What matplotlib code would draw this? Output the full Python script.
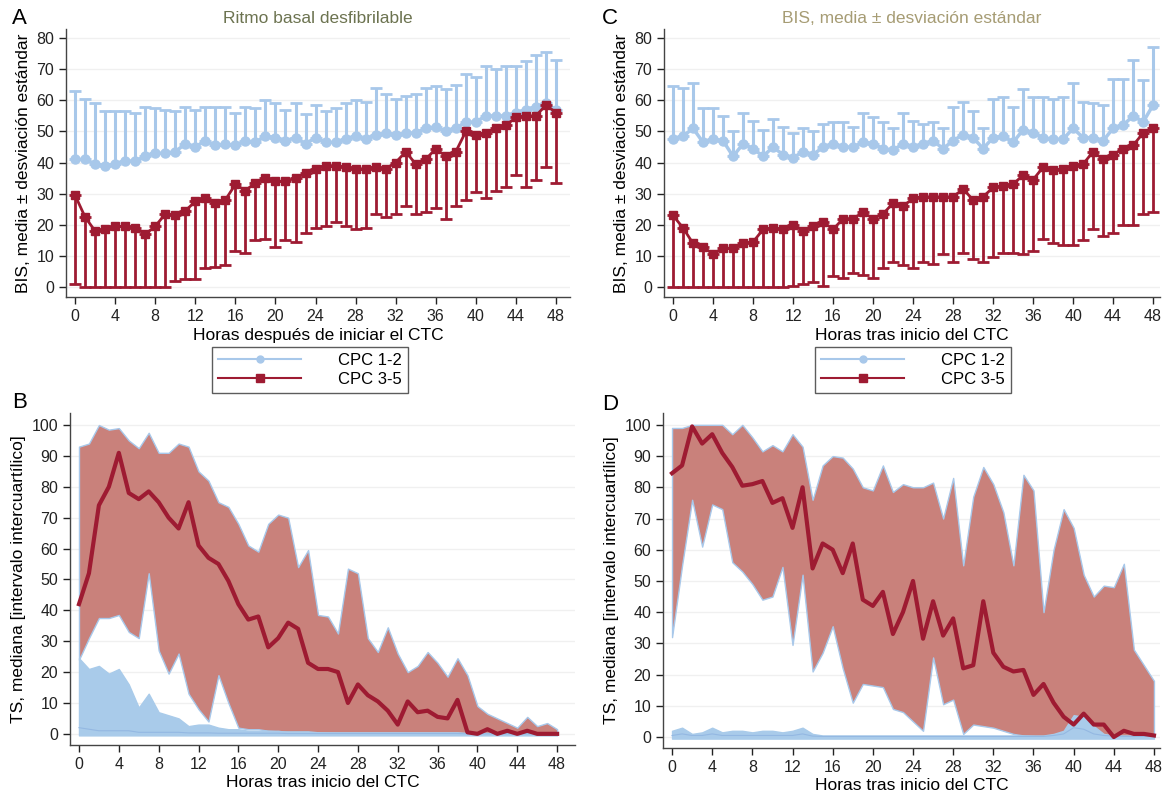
import numpy as np
import matplotlib.pyplot as plt
from matplotlib.lines import Line2D

plt.rcParams['font.family'] = ['Liberation Sans', 'DejaVu Sans']

hours = np.arange(49)

# Panel A: BIS, ritmo basal desfibrilable
a_blue_mean = [41, 41, 39.5, 39, 39.5, 40.5, 40.5, 42, 43, 43, 43.5, 46, 45, 47, 45.5, 46, 45.5,
               47, 46.5, 48.5, 48, 47, 48, 46, 48, 46.5, 46.5, 47.5, 48.5, 47.5, 49, 49.5, 49,
               49.5, 49.5, 51, 51.5, 50, 51, 53, 53, 55, 55, 55, 56, 57, 58, 59, 57]
a_blue_upper = [63, 60.5, 59, 56.5, 56.5, 56.5, 56, 58, 57.5, 57, 56.5, 58, 57, 58, 58, 58, 56,
                58, 57.5, 60, 59, 57, 59, 55.5, 58.5, 56.5, 57.5, 59, 60, 59.5, 64, 62, 60.5,
                61.5, 62, 64, 64.5, 63.5, 65, 68.5, 67.5, 71, 70, 71, 71, 72.5, 74.5, 75.5, 73]
a_red_mean = [29.5, 22.5, 18, 18.5, 19.5, 19.5, 19, 17, 19.5, 23.5, 23, 24.5, 27.5, 28.5, 27, 28,
              33, 31, 33.5, 35, 34, 34, 35, 36.5, 38, 39, 39, 38.5, 38, 38, 38.5, 38, 40, 43.5,
              39.5, 41, 44.5, 42, 43.5, 50, 49, 49.5, 51, 52, 54.5, 55, 55, 58.5, 56]
a_red_lower = [1, 0, 0, 0, 0, 0, 0, 0, 0, 0, 2, 2.5, 2.5, 6, 6.5, 7, 11.5, 11, 15, 15.5, 13, 15,
               14.5, 17.5, 19, 19.5, 21, 19.5, 18.5, 19, 23.5, 22.5, 23.5, 26, 23.5, 24, 25.5, 22,
               26, 28, 30.5, 28.5, 31, 32, 36, 32, 34.5, 38.5, 33.5]

# Panel C: BIS, media +/- DE
c_blue_mean = [47.5, 48.5, 51, 46.5, 47.5, 47, 42, 46, 44.5, 42, 45, 42.5, 41.5, 43.5, 42.5, 45,
               46, 45, 45, 46.5, 46, 44.5, 44, 46, 45, 46, 47, 44.5, 47, 49, 48, 44.5, 48, 48.5,
               46.5, 50.5, 49.5, 48, 47.5, 47.5, 51, 48, 48, 47, 51, 52, 55, 53, 58.5]
c_blue_upper = [64.5, 64, 65.5, 57.5, 57.5, 55, 50, 56, 53.5, 50.5, 54, 51.5, 49.5, 51, 50, 52.5,
                53, 53, 51.5, 56, 54.5, 53, 51, 56, 53.5, 52.5, 53, 51, 58, 59.5, 56.5, 51,
                60.5, 61, 58, 63.5, 61, 61, 60.5, 61, 65.5, 59.5, 59, 58.5, 67, 67, 73, 66.5, 77]
c_red_mean = [23, 19, 14, 13, 10.5, 12.5, 12.5, 14, 14.5, 18.5, 19, 18.5, 20, 18, 19.5, 21, 18.5,
              22, 22, 24, 22, 23.5, 27, 26, 28.5, 29, 29, 29, 29, 31.5, 28, 29, 32, 32.5, 33, 36,
              34.5, 38.5, 37.5, 38, 39, 39.5, 43.5, 41, 42.5, 44.5, 45.5, 49.5, 51]
c_red_lower = [0, 0, 0, 0, 0, 0, 0, 0, 0, 0, 0, 0, 0.5, 1, 1.5, 0.5, 3.5, 3, 4.5, 4, 3, 6, 8, 7,
               6, 8, 7.5, 10.5, 8, 11, 9, 8, 9.5, 11, 11, 10.5, 11.5, 15.5, 14, 13.5, 13.5, 15,
               18.5, 16.5, 17.5, 20, 20, 23.5, 24]

# Panel B: TS, mediana [IQR]
b_red_med = [42, 52, 74, 80, 91, 78, 76, 78.5, 75, 70, 66.5, 75, 61, 57, 55, 49.5, 42, 37, 38, 28,
             31, 36, 34, 23, 21, 21, 20, 10, 16, 12.5, 10.5, 7.5, 3, 10.5, 7, 7.5, 5.5, 5, 11,
             0.5, 0, 1.5, 0, 1, 0, 1, 0, 0, 0]
b_red_q3 = [93, 94, 100, 98.5, 99, 95, 92.5, 97.5, 91, 91, 94, 93, 85, 82, 75, 73.5, 68, 61, 59,
            68, 71, 70, 54, 59.5, 38.5, 38, 32.5, 53.5, 52, 31, 26.5, 34.5, 26, 20, 22, 26.5, 23,
            18.5, 24.5, 19, 9, 6.5, 5, 3.5, 2, 5.5, 2.5, 3.5, 1.5]
b_red_q1 = [24, 31, 37.5, 37.5, 38.5, 33, 31, 52, 27, 19.5, 26, 13, 8, 4, 19, 10, 2, 1.5, 1.5, 1,
            1, 0.5, 0.5, 0.5, 0.5, 0.3, 0.2, 0.2, 0.2, 0.2, 0.1, 0.1, 0.1, 0.1, 0.1, 0, 0, 0, 0,
            0, 0, 0, 0, 0, 0, 0, 0, 0, 0]
b_blue_med = [2, 1.5, 1, 1, 1, 1, 0.5, 0.5, 0.5, 0.5, 0.5, 0.3, 0.3, 0.3, 0.2, 0.2, 0.2, 0.2, 0.2,
              0.2, 0.2, 0.1, 0.1, 0.1, 0.1, 0.1, 0.1, 0.1, 0.1, 0.1, 0.1, 0.1, 0.1, 0.1, 0.1, 0.1,
              0.1, 0.1, 0.1, 0, 0, 0, 0, 0, 0, 0, 0, 0, 0]
b_blue_q3 = [24.5, 21, 22, 19.5, 21, 16, 8.5, 13, 7, 6, 5, 2.5, 3, 3, 2, 1.5, 1.5, 1, 1, 1, 0.8,
             0.8, 0.8, 0.8, 0.5, 0.5, 0.5, 0.5, 0.5, 0.5, 0.5, 0.5, 0.5, 0.5, 0.5, 0.5, 0.5, 0.5,
             0.5, 0.3, 0.3, 0.3, 0.3, 0.3, 0.3, 0.3, 0.3, 0.3, 0.3]
b_blue_q1 = [-0.5] * 49

# Panel D: TS, mediana [IQR]
d_red_med = [84.5, 87, 99.5, 94, 97, 91, 86.5, 80.5, 81, 82, 75, 76.5, 67, 80, 54, 62, 60, 52.5,
             62, 44, 42, 46.5, 33, 40, 50, 31.5, 43.5, 32.5, 38, 22, 23, 43.5, 27, 22.5, 21, 21.5,
             13.5, 17, 11, 6.5, 4, 7.5, 4, 4, 0, 2, 1, 1, 0.5]
d_red_q3 = [99, 99, 100, 100, 100, 100, 97, 100, 96, 91.5, 93.5, 91.5, 97, 93, 76, 87, 90, 89.5,
            86, 80, 79, 87, 78.5, 81, 80, 80, 81.5, 70, 83, 55, 77, 86.5, 81, 72, 55, 84, 79, 40,
            60, 73, 67, 52, 45, 48.5, 48, 55.5, 28, 23, 18]
d_red_q1 = [32, 55, 76, 61, 74.5, 73, 56, 53, 49, 44, 45, 54.5, 29.5, 52, 21, 27, 35.5, 22, 11,
            17, 16.5, 16, 9, 8, 5, 2, 25.5, 10.5, 12, 1, 4, 3.5, 3, 2, 1, 0.5, 0.3, 0, 0, 0, 0,
            0, 0, 0, 0, 0, 0, 0, 0]
d_blue_med = [0.5, 1, 0.5, 0.5, 1, 0.5, 0.5, 0.5, 0.5, 0.5, 0.5, 0.5, 0.5, 1, 0.3, 0.2, 0.2, 0.2,
              0.2, 0.2, 0.2, 0.2, 0.2, 0.2, 0.2, 0.2, 0.2, 0.2, 0.2, 0.2, 0.2, 0.2, 0.2, 0.2, 0.2,
              0.2, 0.2, 0.2, 0.5, 1, 3, 2.5, 1, 0.5, 0.3, 0.2, 0.2, 0.2, 0.2]
d_blue_q3 = [2, 3, 1, 1.5, 3, 1.5, 2, 2, 1.5, 2, 2, 1.5, 2, 3, 1, 0.5, 0.5, 0.5, 0.5, 0.5, 0.5,
             0.5, 0.5, 0.5, 0.5, 0.5, 0.5, 0.5, 0.5, 0.5, 0.5, 0.5, 0.5, 0.5, 0.5, 0.5, 0.5, 0.5,
             1, 2, 7, 6.5, 3.5, 1, 0.5, 0.5, 0.5, 0.5, 0.5]
d_blue_q1 = [-0.5] * 49

BLUE = '#a8c8ea'
RED = '#9e1b32'
BAND_RED = '#c9817b'
BAND_BLUE = '#a9cbea'

fig = plt.figure(figsize=(11.65, 7.91), dpi=100)


def style_axes(ax, ylim, yticks, xlim):
    ax.set_xlim(*xlim)
    ax.set_ylim(*ylim)
    ax.set_xticks(range(0, 49, 4))
    ax.set_yticks(yticks)
    for s in ['top', 'right']:
        ax.spines[s].set_visible(False)
    for s in ['left', 'bottom']:
        ax.spines[s].set_color('#444444')
        ax.spines[s].set_linewidth(1.0)
    ax.tick_params(labelsize=11.5, colors='#222222', length=5, width=1, direction='out')
    ax.grid(axis='y', color='#f0f0f0', linewidth=1)
    ax.set_axisbelow(True)


def bis_panel(ax, b_mean, b_up, r_mean, r_low, xlim):
    b_mean = np.array(b_mean)
    r_mean = np.array(r_mean)
    ax.errorbar(hours, b_mean, yerr=[np.zeros(49), np.array(b_up) - b_mean],
                color=BLUE, marker='o', ms=6.5, lw=2.5, elinewidth=2.2, capsize=4, capthick=2,
                zorder=2)
    ax.errorbar(hours, r_mean, yerr=[r_mean - np.array(r_low), np.zeros(49)],
                color=RED, marker='s', ms=6, lw=2, elinewidth=2, capsize=4, capthick=2,
                zorder=3)
    style_axes(ax, (-3.2, 82.9), range(0, 81, 10), xlim)
    ax.set_ylabel('BIS, media ± desviación estándar', fontsize=12.5, labelpad=4)


def ts_panel(ax, r_med, r_q1, r_q3, b_med, b_q1, b_q3, ylim, xlim):
    ax.fill_between(hours, r_q1, r_q3, facecolor=BAND_RED, edgecolor=BLUE, lw=1, zorder=2)
    ax.fill_between(hours, b_q1, b_q3, facecolor=BAND_BLUE, edgecolor=BAND_BLUE, lw=1, zorder=3)
    ax.plot(hours, b_med, color='#94b8e2', lw=0.8, zorder=4)
    ax.plot(hours, r_med, color=RED, lw=3, zorder=5)
    style_axes(ax, ylim, range(0, 101, 10), xlim)
    ax.set_ylabel('TS, mediana [intervalo intercuartílico]', fontsize=12.5, labelpad=4)
    ax.set_xlabel('Horas tras inicio del CTC', fontsize=12.5, labelpad=2)


axA = fig.add_axes([0.0567, 0.6245, 0.4326, 0.3388])
bis_panel(axA, a_blue_mean, a_blue_upper, a_red_mean, a_red_lower, (-0.9, 49.4))
axA.set_xlabel('Horas después de iniciar el CTC', fontsize=12.5, labelpad=3)
axA.set_title('Ritmo basal desfibrilable', color='#6c7350', fontsize=12.5, pad=4)

axC = fig.add_axes([0.570, 0.6245, 0.4258, 0.3388])
bis_panel(axC, c_blue_mean, c_blue_upper, c_red_mean, c_red_lower, (-0.9, 48.7))
axC.set_xlabel('Horas tras inicio del CTC', fontsize=12.5, labelpad=3)
axC.set_title('BIS, media ± desviación estándar', color='#a69c74', fontsize=12.5, pad=4)

axB = fig.add_axes([0.0601, 0.0582, 0.4335, 0.4197])
ts_panel(axB, b_red_med, b_red_q1, b_red_q3, b_blue_med, b_blue_q1, b_blue_q3,
         (-3.6, 103.9), (-0.9, 49.8))

axD = fig.add_axes([0.5691, 0.0544, 0.4266, 0.4235])
ts_panel(axD, d_red_med, d_red_q1, d_red_q3, d_blue_med, d_blue_q1, d_blue_q3,
         (-3.5, 103.8), (-0.9, 48.6))

handles = [Line2D([], [], color=BLUE, marker='o', ms=5, lw=1.5),
           Line2D([], [], color=RED, marker='s', ms=5.5, lw=1.5)]
labels = ['CPC 1-2', 'CPC 3-5']
for x0, w in [(205, 210), (804, 218)]:
    leg = fig.legend(handles, labels, loc='center',
                     bbox_to_anchor=((x0 + w / 2) / 1165, 1 - 370 / 791),
                     frameon=True, fancybox=False, edgecolor='#333333', fontsize=12,
                     handlelength=5, handletextpad=2.2, borderpad=0.35, labelspacing=0.25,
                     borderaxespad=0)
    leg.get_frame().set_linewidth(1)

for letter, x, y in [('A', 12, 18), ('C', 602, 18), ('B', 12, 403), ('D', 602, 405)]:
    fig.text(x / 1165, 1 - y / 791, letter, fontsize=16, va='center', ha='left')

fig.savefig('out.png', dpi=100, facecolor='white')
